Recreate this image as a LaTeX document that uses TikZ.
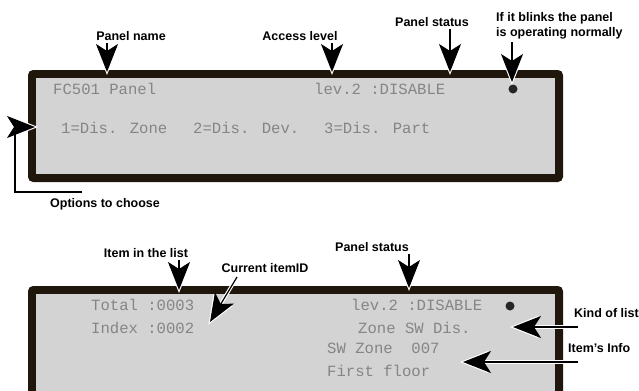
\documentclass[tikz,border=0pt]{standalone}
\usepackage{fontspec}
\setmainfont{Liberation Sans}
\newfontfamily\lcdfont{Liberation Mono}
\usepackage{tikz}
\usetikzlibrary{arrows.meta, calc}
\definecolor{lcdframe}{HTML}{1F170B}
\definecolor{lcdback}{HTML}{D3D3D3}
\definecolor{lcdtext}{HTML}{858585}

\begin{document}
\begin{tikzpicture}[
  x=1bp, y=-1bp,
  tag/.style={font=\fontsize{12.5bp}{15bp}\selectfont\bfseries, inner sep=3bp},
  lcd/.style={font=\fontsize{15.6bp}{18bp}\selectfont\lcdfont, text=lcdtext,
    anchor=base west, inner sep=0pt},
  blink/.style={circle, fill=black!85, inner sep=0pt, minimum size=9bp},
  callout/.style={line width=1.2bp, -{Stealth[length=28bp, width=22bp, inset=7bp]}},
  halo/.style={callout, draw=white, line width=3.5bp, shorten >=-3bp},
]
  \useasboundingbox (0,0) rectangle (639,390);
  \clip (0,0) rectangle (639,390);

  % Panels
  \fill[lcdframe, rounded corners=5bp] (28,70) rectangle (563,182);
  \fill[lcdback] (36,78) rectangle (555,174);
  \fill[lcdframe, rounded corners=5bp] (28,286) rectangle (563,420);
  \fill[lcdback] (36,294) rectangle (555,420);

  % Display text, main menu
  \node[lcd] (mname) at (53,94) {FC501 Panel};
  \node[lcd] (mlev) at (314,94) {lev.2 :DISABLE};
  \node[lcd] (mopta) at (61,133) {1=Dis. Zone};
  \node[lcd] (moptb) at (193,133) {2=Dis. Dev.};
  \node[lcd] (moptc) at (324,133) {3=Dis. Part};
  \node[blink] (mdot) at (513,89) {};

  % Display text, list view
  \node[lcd] (ltotal) at (91,310) {Total :0003};
  \node[lcd] (lindex) at (91,333) {Index :0002};
  \node[lcd] (llev) at (351,310) {lev.2 :DISABLE};
  \node[lcd] (lkind) at (358,333) {Zone SW Dis.};
  \node[lcd] (lzone) at (327,353) {SW Zone~~007};
  \node[lcd] (lfloor) at (327,376) {First floor};
  \node[blink] (ldot) at (510,306) {};

  % Labels
  \node[tag, anchor=base] (tagname) at (131,40) {Panel name};
  \node[tag, anchor=base] (taglev) at (300,40) {Access level};
  \node[tag, anchor=base] (tagstat) at (432,26) {Panel status};
  \node[tag, anchor=north west, align=left] (tagblink) at (493,9)
    {If it blinks the panel\\is operating normally};
  \node[tag, anchor=base] (tagopt) at (105,207) {Options to choose};
  \node[tag, anchor=base] (tagitem) at (146,257) {Item in the list};
  \node[tag, anchor=base] (tagcur) at (265,272) {Current itemID};
  \node[tag, anchor=base] (tagstatb) at (372,251) {Panel status};
  \node[tag, anchor=base west] (tagkind) at (571,317) {Kind of list};
  \node[tag, anchor=base west] (taginfo) at (565,352) {Item’s Info};

  % Arrow ends
  \coordinate (tipname) at (107,72);
  \coordinate (tiplev) at (332,72);
  \coordinate (tipstat) at (450,72);
  \coordinate (tipblink) at (512,82);
  \coordinate (tipopt) at (35,127);
  \coordinate (optfoot) at (82,192);
  \coordinate (tipitem) at (179,290);
  \coordinate (tipcur) at (210,322);
  \coordinate (curfoot) at (237,277);
  \coordinate (tipstatb) at (409,288);
  \coordinate (tipkind) at (513,327);
  \coordinate (kindfoot) at (578,327);
  \coordinate (tipinfo) at (463,362);
  \coordinate (infofoot) at (578,362);

  % Arrows, white halo first
  \foreach \s in {halo, callout} {
    \draw[\s] (tagname.south -| tipname) -- (tipname);
    \draw[\s] (taglev.south -| tiplev) -- (tiplev);
    \draw[\s] (tagstat.south -| tipstat) -- (tipstat);
    \draw[\s] (tagblink.south -| tipblink) -- (tipblink);
    \draw[\s] (optfoot) -| ($(tipopt)+(-20,0)$) -- (tipopt);
    \draw[\s] (tagitem.south -| tipitem) -- (tipitem);
    \draw[\s] (curfoot) -- (tipcur);
    \draw[\s] (tagstatb.south -| tipstatb) -- (tipstatb);
    \draw[\s] (kindfoot) -- (tipkind);
    \draw[\s] (infofoot) -- (tipinfo);
  }
\end{tikzpicture}
\end{document}
